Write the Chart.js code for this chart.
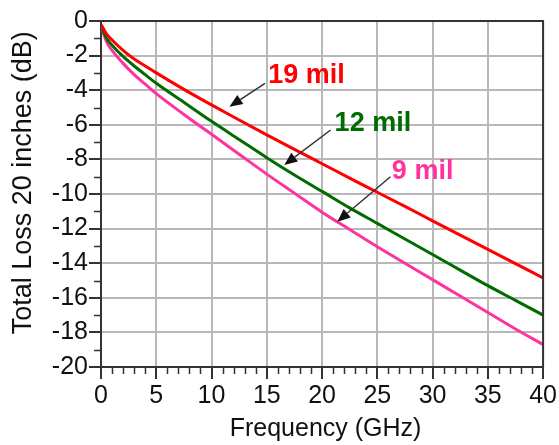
<!DOCTYPE html>
<html><head><meta charset="utf-8">
<script src="https://cdn.jsdelivr.net/npm/chart.js@4/dist/chart.umd.min.js"></script>
<style>html,body{margin:0;padding:0;background:#fff;} #wrap{width:559px;height:445px;position:relative;}</style>
</head><body><div id="wrap"><canvas id="c"></canvas></div>
<script>
// ---- data ----
const frequencies = [0, 0.5, 1, 2, 3, 4, 5, 7.5, 10, 12.5, 15, 17.5, 20, 22.5, 25, 27.5, 30, 32.5, 35, 37.5, 40];
const loss19mil = [-0.2, -0.75, -1.1, -1.7, -2.2, -2.6, -3.0, -3.95, -4.85, -5.72, -6.58, -7.42, -8.25, -9.08, -9.9, -10.72, -11.55, -12.38, -13.2, -14.02, -14.85];
const loss12mil = [-0.25, -1.0, -1.4, -2.05, -2.6, -3.1, -3.6, -4.7, -5.8, -6.85, -7.9, -8.9, -9.85, -10.8, -11.7, -12.6, -13.5, -14.4, -15.3, -16.15, -17.0];
const loss9mil = [-0.3, -1.2, -1.7, -2.45, -3.1, -3.65, -4.2, -5.4, -6.55, -7.7, -8.85, -9.95, -11.05, -12.05, -13.05, -14.0, -14.95, -15.9, -16.85, -17.8, -18.7];
const seriesNames = ['19 mil', '12 mil', '9 mil'];
const xTickValues = {min: 0, max: 40, major: 5, minor: 1};
const yTickValues = {min: -20, max: 0, major: 2, minor: 1};
// callouts (data units): label centre, arrow start and arrow tip
const calloutLabelX = [18.6, 24.6, 29.1];
const calloutLabelY = [-3.15, -5.95, -8.7];
const arrowFromX = [14.84, 20.78, 26.19];
const arrowFromY = [-3.6, -6.3, -9.0];
const arrowToX = [11.62, 16.58, 21.38];
const arrowToY = [-4.95, -8.32, -11.6];

// ---- styles ----
const colors = ['#ff0000', '#006c00', '#ff33a0'];
const FONT = '"Liberation Sans", Arial, sans-serif';
const AXIS = '#333333';
const GRID = '#b8b8b8';

const toPts = arr => frequencies.map((f, i) => ({x: f, y: arr[i]}));
const isMajor = (v, step) => Math.abs(Math.round(v)) % step === 0;

const extras = {
  id: 'extras',
  afterDraw(chart) {
    const {ctx, chartArea: a, scales: {x, y}} = chart;
    ctx.save();
    // frame top/right
    ctx.strokeStyle = AXIS; ctx.lineWidth = 2;
    ctx.beginPath();
    ctx.moveTo(a.left, a.top); ctx.lineTo(a.right, a.top); ctx.lineTo(a.right, a.bottom);
    ctx.stroke();
    // minor ticks
    ctx.lineWidth = 1.5;
    ctx.beginPath();
    for (let v = xTickValues.min; v <= xTickValues.max; v += xTickValues.minor) {
      if (isMajor(v, xTickValues.major)) continue;
      const px = Math.round(x.getPixelForValue(v)) + 0.5;
      ctx.moveTo(px, a.bottom); ctx.lineTo(px, a.bottom + 7);
    }
    for (let v = yTickValues.min; v <= yTickValues.max; v += yTickValues.minor) {
      if (isMajor(v, yTickValues.major)) continue;
      const py = Math.round(y.getPixelForValue(v)) + 0.5;
      ctx.moveTo(a.left, py); ctx.lineTo(a.left - 7, py);
    }
    ctx.stroke();
    // callouts
    for (let i = 0; i < seriesNames.length; i++) {
      const x0 = x.getPixelForValue(arrowFromX[i]), y0 = y.getPixelForValue(arrowFromY[i]);
      const x1 = x.getPixelForValue(arrowToX[i]), y1 = y.getPixelForValue(arrowToY[i]);
      const ang = Math.atan2(y1 - y0, x1 - x0);
      const L = 13, W = 5.5;
      const bx = x1 - L * Math.cos(ang), by = y1 - L * Math.sin(ang);
      ctx.strokeStyle = '#333'; ctx.lineWidth = 1.5;
      ctx.beginPath(); ctx.moveTo(x0, y0); ctx.lineTo(bx, by); ctx.stroke();
      ctx.fillStyle = '#111';
      ctx.beginPath();
      ctx.moveTo(x1, y1);
      ctx.lineTo(bx + W * Math.sin(ang), by - W * Math.cos(ang));
      ctx.lineTo(bx - W * Math.sin(ang), by + W * Math.cos(ang));
      ctx.closePath(); ctx.fill();
      ctx.fillStyle = colors[i];
      ctx.font = 'bold 27px ' + FONT;
      ctx.textAlign = 'center'; ctx.textBaseline = 'middle';
      ctx.fillText(seriesNames[i], x.getPixelForValue(calloutLabelX[i]), y.getPixelForValue(calloutLabelY[i]));
    }
    ctx.restore();
  }
};

new Chart(document.getElementById('c'), {
  type: 'line',
  data: {
    datasets: [loss19mil, loss12mil, loss9mil].map((arr, i) => ({
      label: seriesNames[i], data: toPts(arr), borderColor: colors[i], backgroundColor: colors[i],
      borderWidth: 3, pointRadius: 0, cubicInterpolationMode: 'monotone', fill: false
    }))
  },
  options: {
    responsive: true, maintainAspectRatio: false, animation: false, devicePixelRatio: 1,
    layout: {padding: {left: 0, right: 14, top: 21, bottom: 0}},
    plugins: {legend: {display: false}, tooltip: {enabled: false}},
    scales: {
      x: {
        type: 'linear', min: xTickValues.min, max: xTickValues.max,
        afterFit: s => { s.height = 78; },
        ticks: {
          stepSize: xTickValues.major, autoSkip: false, maxRotation: 0, padding: 2, color: '#111',
          font: {family: FONT, size: 25}
        },
        grid: {color: GRID, lineWidth: 2, tickLength: 12, tickWidth: 2, tickColor: AXIS},
        border: {color: AXIS, width: 2},
        title: {display: true, text: ' Frequency (GHz)', color: '#111', font: {family: FONT, size: 25}, padding: {top: 0, bottom: 1}}
      },
      y: {
        type: 'linear', min: yTickValues.min, max: yTickValues.max,
        afterFit: s => { s.width = 101; },
        ticks: {
          stepSize: yTickValues.major, autoSkip: false, padding: 1, color: '#111',
          font: {family: FONT, size: 25}
        },
        grid: {color: GRID, lineWidth: 2, tickLength: 12, tickWidth: 2, tickColor: AXIS},
        border: {color: AXIS, width: 2},
        title: {display: true, text: '   Total Loss 20 inches (dB)', color: '#111', font: {family: FONT, size: 27}, padding: {top: 7, bottom: 0}}
      }
    }
  },
  plugins: [extras]
});
</script></body></html>
